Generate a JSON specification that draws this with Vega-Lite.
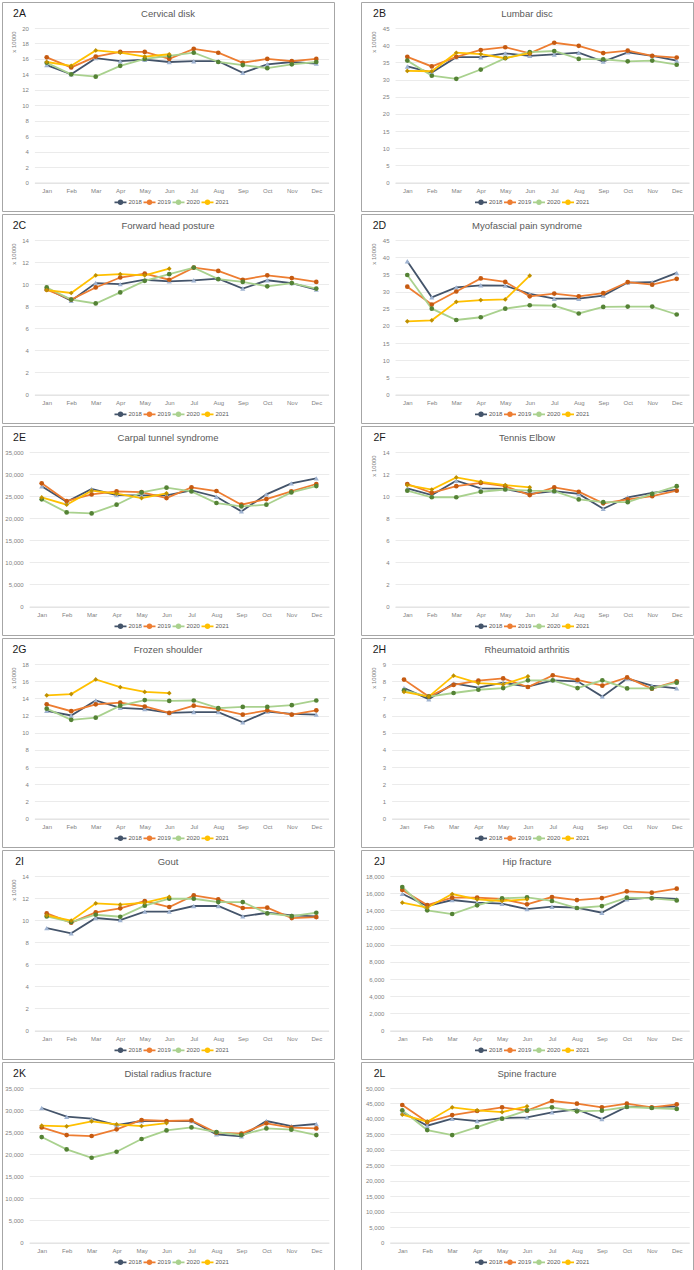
{
"$schema":"https://vega.github.io/schema/vega-lite/v6.json",
"padding":{"left":1,"top":1,"right":0,"bottom":0},
"bounds":"flush",
"columns":2,
"spacing":{"row":3,"column":27},
"resolve":{"scale":{"color":"independent"},"legend":{"color":"independent"}},
"config":{
 "font":"Liberation Sans",
 "view":{"stroke":"#a6a6a6","strokeWidth":1},
 "title":{"fontSize":9.5,"fontWeight":"normal","color":"#595959","anchor":"middle","frame":"group","offset":-16},
 "line":{"strokeWidth":1.8},
 "point":{"filled":true,"size":22,"opacity":1}
},
"concat":[
{"width":332,"height":209,"title":"Cervical disk",
 "data":{"values":[
 {"year":"2018","m":1,"v":15.2},{"year":"2018","m":2,"v":14.0},{"year":"2018","m":3,"v":16.1},{"year":"2018","m":4,"v":15.7},{"year":"2018","m":5,"v":15.9},{"year":"2018","m":6,"v":15.6},{"year":"2018","m":7,"v":15.7},{"year":"2018","m":8,"v":15.7},{"year":"2018","m":9,"v":14.2},{"year":"2018","m":10,"v":15.3},{"year":"2018","m":11,"v":15.6},{"year":"2018","m":12,"v":15.4},
 {"year":"2019","m":1,"v":16.2},{"year":"2019","m":2,"v":14.9},{"year":"2019","m":3,"v":16.3},{"year":"2019","m":4,"v":16.9},{"year":"2019","m":5,"v":16.9},{"year":"2019","m":6,"v":16.0},{"year":"2019","m":7,"v":17.3},{"year":"2019","m":8,"v":16.8},{"year":"2019","m":9,"v":15.5},{"year":"2019","m":10,"v":16.0},{"year":"2019","m":11,"v":15.7},{"year":"2019","m":12,"v":16.0},
 {"year":"2020","m":1,"v":15.5},{"year":"2020","m":2,"v":14.0},{"year":"2020","m":3,"v":13.7},{"year":"2020","m":4,"v":15.1},{"year":"2020","m":5,"v":16.0},{"year":"2020","m":6,"v":16.4},{"year":"2020","m":7,"v":16.8},{"year":"2020","m":8,"v":15.6},{"year":"2020","m":9,"v":15.2},{"year":"2020","m":10,"v":14.8},{"year":"2020","m":11,"v":15.3},{"year":"2020","m":12,"v":15.6},
 {"year":"2021","m":1,"v":15.6},{"year":"2021","m":2,"v":15.1},{"year":"2021","m":3,"v":17.1},{"year":"2021","m":4,"v":16.8},{"year":"2021","m":5,"v":16.3},{"year":"2021","m":6,"v":16.6}]},
 "encoding":{
  "x":{"field":"m","type":"quantitative","scale":{"domain":[0.5,12.5],"range":[32.45,326.55],"nice":false,"zero":false},
   "axis":{"values":[1,2,3,4,5,6,7,8,9,10,11,12],"labelExpr":"['Jan','Feb','Mar','Apr','May','Jun','Jul','Aug','Sep','Oct','Nov','Dec'][datum.value-1]","grid":false,"ticks":false,"domain":true,"domainColor":"#d9d9d9","domainWidth":0.8,"offset":-28.5,"labelPadding":4.5,"labelFontSize":6,"labelColor":"#7f7f7f","labelFlush":false,"labelOverlap":false,"title":"2A","titleX":17,"titleY":-168.8,"titleFontSize":10.5,"titleFontWeight":"normal","titleColor":"#1a1a1a","titleAlign":"center","titleBaseline":"middle","titleAngle":0}},
  "y":{"field":"v","type":"quantitative","scale":{"domain":[0,20],"range":[180.5,26],"nice":false,"zero":false},
   "axis":{"values":[0,2,4,6,8,10,12,14,16,18,20],"grid":true,"gridColor":"#e3e3e3","gridWidth":0.7,"domain":false,"ticks":false,"offset":-32.45,"labelPadding":6,"labelFontSize":6,"labelColor":"#7f7f7f","labelFlush":false,"labelOverlap":false,"title":"x 10000","titleX":-20.95,"titleY":39.5,"titleFontSize":6,"titleFontWeight":"normal","titleColor":"#7f7f7f","titleAngle":-90,"titleAlign":"center","titleBaseline":"middle"}}},
 "layer":[
  {"mark":"line","encoding":{"color":{"field":"year","type":"nominal","scale":{"domain":["2018","2019","2020","2021"],"range":["#44546a","#ed7d31","#a9d18e","#ffc000"]},
   "legend":{"orient":"none","legendX":111.5,"legendY":193,"direction":"horizontal","columns":4,"title":null,"padding":0,"symbolSize":144,"symbolStrokeWidth":1.4,"symbolType":"M-1,0H1M-0.3,0A0.3,0.3,0,1,1,0.3,0A0.3,0.3,0,1,1,-0.3,0Z","labelFontSize":6,"labelColor":"#595959","labelOffset":1,"columnPadding":-6}}}},
  {"transform":[{"filter":"datum.year=='2018'"}],"mark":{"type":"point","shape":"triangle-up","color":"#9fb3d1","size":26}},
  {"transform":[{"filter":"datum.year=='2019'"}],"mark":{"type":"point","shape":"circle","color":"#c55a11"}},
  {"transform":[{"filter":"datum.year=='2020'"}],"mark":{"type":"point","shape":"circle","color":"#548235"}},
  {"transform":[{"filter":"datum.year=='2021'"}],"mark":{"type":"point","shape":"diamond","color":"#bf9000"}}
 ]},
{"width":332,"height":209,"title":"Lumbar disc",
 "data":{"values":[
 {"year":"2018","m":1,"v":33.8},{"year":"2018","m":2,"v":32.0},{"year":"2018","m":3,"v":36.5},{"year":"2018","m":4,"v":36.5},{"year":"2018","m":5,"v":37.6},{"year":"2018","m":6,"v":36.9},{"year":"2018","m":7,"v":37.3},{"year":"2018","m":8,"v":37.8},{"year":"2018","m":9,"v":35.2},{"year":"2018","m":10,"v":37.9},{"year":"2018","m":11,"v":36.9},{"year":"2018","m":12,"v":35.5},
 {"year":"2019","m":1,"v":36.6},{"year":"2019","m":2,"v":33.8},{"year":"2019","m":3,"v":36.6},{"year":"2019","m":4,"v":38.6},{"year":"2019","m":5,"v":39.4},{"year":"2019","m":6,"v":37.6},{"year":"2019","m":7,"v":40.7},{"year":"2019","m":8,"v":39.8},{"year":"2019","m":9,"v":37.7},{"year":"2019","m":10,"v":38.4},{"year":"2019","m":11,"v":36.9},{"year":"2019","m":12,"v":36.4},
 {"year":"2020","m":1,"v":35.5},{"year":"2020","m":2,"v":31.1},{"year":"2020","m":3,"v":30.2},{"year":"2020","m":4,"v":32.9},{"year":"2020","m":5,"v":36.2},{"year":"2020","m":6,"v":38.0},{"year":"2020","m":7,"v":38.3},{"year":"2020","m":8,"v":36.0},{"year":"2020","m":9,"v":35.9},{"year":"2020","m":10,"v":35.3},{"year":"2020","m":11,"v":35.5},{"year":"2020","m":12,"v":34.3},
 {"year":"2021","m":1,"v":32.5},{"year":"2021","m":2,"v":32.4},{"year":"2021","m":3,"v":37.8},{"year":"2021","m":4,"v":37.4},{"year":"2021","m":5,"v":36.2},{"year":"2021","m":6,"v":37.7}]},
 "encoding":{
  "x":{"field":"m","type":"quantitative","scale":{"domain":[0.5,12.5],"range":[34.05,327.95],"nice":false,"zero":false},
   "axis":{"values":[1,2,3,4,5,6,7,8,9,10,11,12],"labelExpr":"['Jan','Feb','Mar','Apr','May','Jun','Jul','Aug','Sep','Oct','Nov','Dec'][datum.value-1]","grid":false,"ticks":false,"domain":true,"domainColor":"#d9d9d9","domainWidth":0.8,"offset":-28.5,"labelPadding":4.5,"labelFontSize":6,"labelColor":"#7f7f7f","labelFlush":false,"labelOverlap":false,"title":"2B","titleX":18,"titleY":-168.8,"titleFontSize":10.5,"titleFontWeight":"normal","titleColor":"#1a1a1a","titleAlign":"center","titleBaseline":"middle","titleAngle":0}},
  "y":{"field":"v","type":"quantitative","scale":{"domain":[0,45],"range":[180.5,26],"nice":false,"zero":false},
   "axis":{"values":[0,5,10,15,20,25,30,35,40,45],"grid":true,"gridColor":"#e3e3e3","gridWidth":0.7,"domain":false,"ticks":false,"offset":-34.05,"labelPadding":6,"labelFontSize":6,"labelColor":"#7f7f7f","labelFlush":false,"labelOverlap":false,"title":"x 10000","titleX":-22.05,"titleY":39.5,"titleFontSize":6,"titleFontWeight":"normal","titleColor":"#7f7f7f","titleAngle":-90,"titleAlign":"center","titleBaseline":"middle"}}},
 "layer":[
  {"mark":"line","encoding":{"color":{"field":"year","type":"nominal","scale":{"domain":["2018","2019","2020","2021"],"range":["#44546a","#ed7d31","#a9d18e","#ffc000"]},
   "legend":{"orient":"none","legendX":113,"legendY":193,"direction":"horizontal","columns":4,"title":null,"padding":0,"symbolSize":144,"symbolStrokeWidth":1.4,"symbolType":"M-1,0H1M-0.3,0A0.3,0.3,0,1,1,0.3,0A0.3,0.3,0,1,1,-0.3,0Z","labelFontSize":6,"labelColor":"#595959","labelOffset":1,"columnPadding":-6}}}},
  {"transform":[{"filter":"datum.year=='2018'"}],"mark":{"type":"point","shape":"triangle-up","color":"#9fb3d1","size":26}},
  {"transform":[{"filter":"datum.year=='2019'"}],"mark":{"type":"point","shape":"circle","color":"#c55a11"}},
  {"transform":[{"filter":"datum.year=='2020'"}],"mark":{"type":"point","shape":"circle","color":"#548235"}},
  {"transform":[{"filter":"datum.year=='2021'"}],"mark":{"type":"point","shape":"diamond","color":"#bf9000"}}
 ]},
{"width":332,"height":209,"title":"Forward head posture",
 "data":{"values":[
 {"year":"2018","m":1,"v":9.6},{"year":"2018","m":2,"v":8.5},{"year":"2018","m":3,"v":10.1},{"year":"2018","m":4,"v":10.0},{"year":"2018","m":5,"v":10.4},{"year":"2018","m":6,"v":10.25},{"year":"2018","m":7,"v":10.35},{"year":"2018","m":8,"v":10.5},{"year":"2018","m":9,"v":9.6},{"year":"2018","m":10,"v":10.35},{"year":"2018","m":11,"v":10.1},{"year":"2018","m":12,"v":9.5},
 {"year":"2019","m":1,"v":9.5},{"year":"2019","m":2,"v":8.6},{"year":"2019","m":3,"v":9.7},{"year":"2019","m":4,"v":10.6},{"year":"2019","m":5,"v":10.95},{"year":"2019","m":6,"v":10.4},{"year":"2019","m":7,"v":11.5},{"year":"2019","m":8,"v":11.2},{"year":"2019","m":9,"v":10.4},{"year":"2019","m":10,"v":10.8},{"year":"2019","m":11,"v":10.55},{"year":"2019","m":12,"v":10.2},
 {"year":"2020","m":1,"v":9.7},{"year":"2020","m":2,"v":8.6},{"year":"2020","m":3,"v":8.25},{"year":"2020","m":4,"v":9.25},{"year":"2020","m":5,"v":10.3},{"year":"2020","m":6,"v":10.9},{"year":"2020","m":7,"v":11.5},{"year":"2020","m":8,"v":10.45},{"year":"2020","m":9,"v":10.2},{"year":"2020","m":10,"v":9.8},{"year":"2020","m":11,"v":10.1},{"year":"2020","m":12,"v":9.6},
 {"year":"2021","m":1,"v":9.45},{"year":"2021","m":2,"v":9.2},{"year":"2021","m":3,"v":10.8},{"year":"2021","m":4,"v":10.9},{"year":"2021","m":5,"v":10.8},{"year":"2021","m":6,"v":11.4}]},
 "encoding":{
  "x":{"field":"m","type":"quantitative","scale":{"domain":[0.5,12.5],"range":[32.45,326.55],"nice":false,"zero":false},
   "axis":{"values":[1,2,3,4,5,6,7,8,9,10,11,12],"labelExpr":"['Jan','Feb','Mar','Apr','May','Jun','Jul','Aug','Sep','Oct','Nov','Dec'][datum.value-1]","grid":false,"ticks":false,"domain":true,"domainColor":"#d9d9d9","domainWidth":0.8,"offset":-28.5,"labelPadding":4.5,"labelFontSize":6,"labelColor":"#7f7f7f","labelFlush":false,"labelOverlap":false,"title":"2C","titleX":17,"titleY":-168.8,"titleFontSize":10.5,"titleFontWeight":"normal","titleColor":"#1a1a1a","titleAlign":"center","titleBaseline":"middle","titleAngle":0}},
  "y":{"field":"v","type":"quantitative","scale":{"domain":[0,14],"range":[180.5,26],"nice":false,"zero":false},
   "axis":{"values":[0,2,4,6,8,10,12,14],"grid":true,"gridColor":"#e3e3e3","gridWidth":0.7,"domain":false,"ticks":false,"offset":-32.45,"labelPadding":6,"labelFontSize":6,"labelColor":"#7f7f7f","labelFlush":false,"labelOverlap":false,"title":"x 10000","titleX":-20.95,"titleY":39.5,"titleFontSize":6,"titleFontWeight":"normal","titleColor":"#7f7f7f","titleAngle":-90,"titleAlign":"center","titleBaseline":"middle"}}},
 "layer":[
  {"mark":"line","encoding":{"color":{"field":"year","type":"nominal","scale":{"domain":["2018","2019","2020","2021"],"range":["#44546a","#ed7d31","#a9d18e","#ffc000"]},
   "legend":{"orient":"none","legendX":111.5,"legendY":193,"direction":"horizontal","columns":4,"title":null,"padding":0,"symbolSize":144,"symbolStrokeWidth":1.4,"symbolType":"M-1,0H1M-0.3,0A0.3,0.3,0,1,1,0.3,0A0.3,0.3,0,1,1,-0.3,0Z","labelFontSize":6,"labelColor":"#595959","labelOffset":1,"columnPadding":-6}}}},
  {"transform":[{"filter":"datum.year=='2018'"}],"mark":{"type":"point","shape":"triangle-up","color":"#9fb3d1","size":26}},
  {"transform":[{"filter":"datum.year=='2019'"}],"mark":{"type":"point","shape":"circle","color":"#c55a11"}},
  {"transform":[{"filter":"datum.year=='2020'"}],"mark":{"type":"point","shape":"circle","color":"#548235"}},
  {"transform":[{"filter":"datum.year=='2021'"}],"mark":{"type":"point","shape":"diamond","color":"#bf9000"}}
 ]},
{"width":332,"height":209,"title":"Myofascial pain syndrome",
 "data":{"values":[
 {"year":"2018","m":1,"v":38.8},{"year":"2018","m":2,"v":28.3},{"year":"2018","m":3,"v":31.2},{"year":"2018","m":4,"v":31.8},{"year":"2018","m":5,"v":31.7},{"year":"2018","m":6,"v":29.3},{"year":"2018","m":7,"v":27.9},{"year":"2018","m":8,"v":27.9},{"year":"2018","m":9,"v":28.8},{"year":"2018","m":10,"v":32.6},{"year":"2018","m":11,"v":32.7},{"year":"2018","m":12,"v":35.4},
 {"year":"2019","m":1,"v":31.4},{"year":"2019","m":2,"v":26.2},{"year":"2019","m":3,"v":30.0},{"year":"2019","m":4,"v":33.8},{"year":"2019","m":5,"v":32.8},{"year":"2019","m":6,"v":28.6},{"year":"2019","m":7,"v":29.4},{"year":"2019","m":8,"v":28.6},{"year":"2019","m":9,"v":29.5},{"year":"2019","m":10,"v":32.75},{"year":"2019","m":11,"v":32.0},{"year":"2019","m":12,"v":33.7},
 {"year":"2020","m":1,"v":34.8},{"year":"2020","m":2,"v":25.0},{"year":"2020","m":3,"v":21.7},{"year":"2020","m":4,"v":22.5},{"year":"2020","m":5,"v":25.0},{"year":"2020","m":6,"v":26.0},{"year":"2020","m":7,"v":25.9},{"year":"2020","m":8,"v":23.6},{"year":"2020","m":9,"v":25.5},{"year":"2020","m":10,"v":25.6},{"year":"2020","m":11,"v":25.6},{"year":"2020","m":12,"v":23.3},
 {"year":"2021","m":1,"v":21.3},{"year":"2021","m":2,"v":21.6},{"year":"2021","m":3,"v":27.0},{"year":"2021","m":4,"v":27.5},{"year":"2021","m":5,"v":27.7},{"year":"2021","m":6,"v":34.6}]},
 "encoding":{
  "x":{"field":"m","type":"quantitative","scale":{"domain":[0.5,12.5],"range":[34.05,327.95],"nice":false,"zero":false},
   "axis":{"values":[1,2,3,4,5,6,7,8,9,10,11,12],"labelExpr":"['Jan','Feb','Mar','Apr','May','Jun','Jul','Aug','Sep','Oct','Nov','Dec'][datum.value-1]","grid":false,"ticks":false,"domain":true,"domainColor":"#d9d9d9","domainWidth":0.8,"offset":-28.5,"labelPadding":4.5,"labelFontSize":6,"labelColor":"#7f7f7f","labelFlush":false,"labelOverlap":false,"title":"2D","titleX":18,"titleY":-168.8,"titleFontSize":10.5,"titleFontWeight":"normal","titleColor":"#1a1a1a","titleAlign":"center","titleBaseline":"middle","titleAngle":0}},
  "y":{"field":"v","type":"quantitative","scale":{"domain":[0,45],"range":[180.5,26],"nice":false,"zero":false},
   "axis":{"values":[0,5,10,15,20,25,30,35,40,45],"grid":true,"gridColor":"#e3e3e3","gridWidth":0.7,"domain":false,"ticks":false,"offset":-34.05,"labelPadding":6,"labelFontSize":6,"labelColor":"#7f7f7f","labelFlush":false,"labelOverlap":false,"title":"x 10000","titleX":-22.05,"titleY":39.5,"titleFontSize":6,"titleFontWeight":"normal","titleColor":"#7f7f7f","titleAngle":-90,"titleAlign":"center","titleBaseline":"middle"}}},
 "layer":[
  {"mark":"line","encoding":{"color":{"field":"year","type":"nominal","scale":{"domain":["2018","2019","2020","2021"],"range":["#44546a","#ed7d31","#a9d18e","#ffc000"]},
   "legend":{"orient":"none","legendX":113,"legendY":193,"direction":"horizontal","columns":4,"title":null,"padding":0,"symbolSize":144,"symbolStrokeWidth":1.4,"symbolType":"M-1,0H1M-0.3,0A0.3,0.3,0,1,1,0.3,0A0.3,0.3,0,1,1,-0.3,0Z","labelFontSize":6,"labelColor":"#595959","labelOffset":1,"columnPadding":-6}}}},
  {"transform":[{"filter":"datum.year=='2018'"}],"mark":{"type":"point","shape":"triangle-up","color":"#9fb3d1","size":26}},
  {"transform":[{"filter":"datum.year=='2019'"}],"mark":{"type":"point","shape":"circle","color":"#c55a11"}},
  {"transform":[{"filter":"datum.year=='2020'"}],"mark":{"type":"point","shape":"circle","color":"#548235"}},
  {"transform":[{"filter":"datum.year=='2021'"}],"mark":{"type":"point","shape":"diamond","color":"#bf9000"}}
 ]},
{"width":332,"height":209,"title":"Carpal tunnel syndrome",
 "data":{"values":[
 {"year":"2018","m":1,"v":27220},{"year":"2018","m":2,"v":23740},{"year":"2018","m":3,"v":26610},{"year":"2018","m":4,"v":25250},{"year":"2018","m":5,"v":25170},{"year":"2018","m":6,"v":25170},{"year":"2018","m":7,"v":26310},{"year":"2018","m":8,"v":24870},{"year":"2018","m":9,"v":21550},{"year":"2018","m":10,"v":25400},{"year":"2018","m":11,"v":27900},{"year":"2018","m":12,"v":29030},
 {"year":"2019","m":1,"v":27900},{"year":"2019","m":2,"v":23890},{"year":"2019","m":3,"v":25400},{"year":"2019","m":4,"v":26080},{"year":"2019","m":5,"v":25930},{"year":"2019","m":6,"v":24570},{"year":"2019","m":7,"v":26990},{"year":"2019","m":8,"v":26160},{"year":"2019","m":9,"v":23060},{"year":"2019","m":10,"v":24340},{"year":"2019","m":11,"v":26080},{"year":"2019","m":12,"v":27750},
 {"year":"2020","m":1,"v":24270},{"year":"2020","m":2,"v":21320},{"year":"2020","m":3,"v":21090},{"year":"2020","m":4,"v":23060},{"year":"2020","m":5,"v":25850},{"year":"2020","m":6,"v":26910},{"year":"2020","m":7,"v":26080},{"year":"2020","m":8,"v":23440},{"year":"2020","m":9,"v":22680},{"year":"2020","m":10,"v":23060},{"year":"2020","m":11,"v":25850},{"year":"2020","m":12,"v":27290},
 {"year":"2021","m":1,"v":24720},{"year":"2021","m":2,"v":23060},{"year":"2021","m":3,"v":26230},{"year":"2021","m":4,"v":25550},{"year":"2021","m":5,"v":24570},{"year":"2021","m":6,"v":25630}]},
 "encoding":{
  "x":{"field":"m","type":"quantitative","scale":{"domain":[0.5,12.5],"range":[27.2,326.8],"nice":false,"zero":false},
   "axis":{"values":[1,2,3,4,5,6,7,8,9,10,11,12],"labelExpr":"['Jan','Feb','Mar','Apr','May','Jun','Jul','Aug','Sep','Oct','Nov','Dec'][datum.value-1]","grid":false,"ticks":false,"domain":true,"domainColor":"#d9d9d9","domainWidth":0.8,"offset":-28.5,"labelPadding":4.5,"labelFontSize":6,"labelColor":"#7f7f7f","labelFlush":false,"labelOverlap":false,"title":"2E","titleX":17,"titleY":-168.8,"titleFontSize":10.5,"titleFontWeight":"normal","titleColor":"#1a1a1a","titleAlign":"center","titleBaseline":"middle","titleAngle":0}},
  "y":{"field":"v","type":"quantitative","scale":{"domain":[0,35000],"range":[180.5,26],"nice":false,"zero":false},
   "axis":{"values":[0,5000,10000,15000,20000,25000,30000,35000],"format":",d","grid":true,"gridColor":"#e3e3e3","gridWidth":0.7,"domain":false,"ticks":false,"offset":-27.2,"labelPadding":6,"labelFontSize":6,"labelColor":"#7f7f7f","labelFlush":false,"labelOverlap":false,"title":null}}},
 "layer":[
  {"mark":"line","encoding":{"color":{"field":"year","type":"nominal","scale":{"domain":["2018","2019","2020","2021"],"range":["#44546a","#ed7d31","#a9d18e","#ffc000"]},
   "legend":{"orient":"none","legendX":111.5,"legendY":193,"direction":"horizontal","columns":4,"title":null,"padding":0,"symbolSize":144,"symbolStrokeWidth":1.4,"symbolType":"M-1,0H1M-0.3,0A0.3,0.3,0,1,1,0.3,0A0.3,0.3,0,1,1,-0.3,0Z","labelFontSize":6,"labelColor":"#595959","labelOffset":1,"columnPadding":-6}}}},
  {"transform":[{"filter":"datum.year=='2018'"}],"mark":{"type":"point","shape":"triangle-up","color":"#9fb3d1","size":26}},
  {"transform":[{"filter":"datum.year=='2019'"}],"mark":{"type":"point","shape":"circle","color":"#c55a11"}},
  {"transform":[{"filter":"datum.year=='2020'"}],"mark":{"type":"point","shape":"circle","color":"#548235"}},
  {"transform":[{"filter":"datum.year=='2021'"}],"mark":{"type":"point","shape":"diamond","color":"#bf9000"}}
 ]},
{"width":332,"height":209,"title":"Tennis Elbow",
 "data":{"values":[
 {"year":"2018","m":1,"v":10.7},{"year":"2018","m":2,"v":10.1},{"year":"2018","m":3,"v":11.4},{"year":"2018","m":4,"v":10.7},{"year":"2018","m":5,"v":10.65},{"year":"2018","m":6,"v":10.2},{"year":"2018","m":7,"v":10.45},{"year":"2018","m":8,"v":10.2},{"year":"2018","m":9,"v":8.85},{"year":"2018","m":10,"v":9.9},{"year":"2018","m":11,"v":10.3},{"year":"2018","m":12,"v":10.6},
 {"year":"2019","m":1,"v":11.1},{"year":"2019","m":2,"v":10.3},{"year":"2019","m":3,"v":10.9},{"year":"2019","m":4,"v":11.2},{"year":"2019","m":5,"v":10.9},{"year":"2019","m":6,"v":10.1},{"year":"2019","m":7,"v":10.8},{"year":"2019","m":8,"v":10.4},{"year":"2019","m":9,"v":9.35},{"year":"2019","m":10,"v":9.7},{"year":"2019","m":11,"v":10.0},{"year":"2019","m":12,"v":10.5},
 {"year":"2020","m":1,"v":10.5},{"year":"2020","m":2,"v":9.9},{"year":"2020","m":3,"v":9.9},{"year":"2020","m":4,"v":10.4},{"year":"2020","m":5,"v":10.6},{"year":"2020","m":6,"v":10.5},{"year":"2020","m":7,"v":10.45},{"year":"2020","m":8,"v":9.7},{"year":"2020","m":9,"v":9.45},{"year":"2020","m":10,"v":9.45},{"year":"2020","m":11,"v":10.2},{"year":"2020","m":12,"v":10.9},
 {"year":"2021","m":1,"v":11.0},{"year":"2021","m":2,"v":10.6},{"year":"2021","m":3,"v":11.7},{"year":"2021","m":4,"v":11.3},{"year":"2021","m":5,"v":11.0},{"year":"2021","m":6,"v":10.8}]},
 "encoding":{
  "x":{"field":"m","type":"quantitative","scale":{"domain":[0.5,12.5],"range":[34.05,327.95],"nice":false,"zero":false},
   "axis":{"values":[1,2,3,4,5,6,7,8,9,10,11,12],"labelExpr":"['Jan','Feb','Mar','Apr','May','Jun','Jul','Aug','Sep','Oct','Nov','Dec'][datum.value-1]","grid":false,"ticks":false,"domain":true,"domainColor":"#d9d9d9","domainWidth":0.8,"offset":-28.5,"labelPadding":4.5,"labelFontSize":6,"labelColor":"#7f7f7f","labelFlush":false,"labelOverlap":false,"title":"2F","titleX":18,"titleY":-168.8,"titleFontSize":10.5,"titleFontWeight":"normal","titleColor":"#1a1a1a","titleAlign":"center","titleBaseline":"middle","titleAngle":0}},
  "y":{"field":"v","type":"quantitative","scale":{"domain":[0,14],"range":[180.5,26],"nice":false,"zero":false},
   "axis":{"values":[0,2,4,6,8,10,12,14],"grid":true,"gridColor":"#e3e3e3","gridWidth":0.7,"domain":false,"ticks":false,"offset":-34.05,"labelPadding":6,"labelFontSize":6,"labelColor":"#7f7f7f","labelFlush":false,"labelOverlap":false,"title":"x 10000","titleX":-22.05,"titleY":39.5,"titleFontSize":6,"titleFontWeight":"normal","titleColor":"#7f7f7f","titleAngle":-90,"titleAlign":"center","titleBaseline":"middle"}}},
 "layer":[
  {"mark":"line","encoding":{"color":{"field":"year","type":"nominal","scale":{"domain":["2018","2019","2020","2021"],"range":["#44546a","#ed7d31","#a9d18e","#ffc000"]},
   "legend":{"orient":"none","legendX":113,"legendY":193,"direction":"horizontal","columns":4,"title":null,"padding":0,"symbolSize":144,"symbolStrokeWidth":1.4,"symbolType":"M-1,0H1M-0.3,0A0.3,0.3,0,1,1,0.3,0A0.3,0.3,0,1,1,-0.3,0Z","labelFontSize":6,"labelColor":"#595959","labelOffset":1,"columnPadding":-6}}}},
  {"transform":[{"filter":"datum.year=='2018'"}],"mark":{"type":"point","shape":"triangle-up","color":"#9fb3d1","size":26}},
  {"transform":[{"filter":"datum.year=='2019'"}],"mark":{"type":"point","shape":"circle","color":"#c55a11"}},
  {"transform":[{"filter":"datum.year=='2020'"}],"mark":{"type":"point","shape":"circle","color":"#548235"}},
  {"transform":[{"filter":"datum.year=='2021'"}],"mark":{"type":"point","shape":"diamond","color":"#bf9000"}}
 ]},
{"width":332,"height":209,"title":"Frozen shoulder",
 "data":{"values":[
 {"year":"2018","m":1,"v":12.55},{"year":"2018","m":2,"v":12.0},{"year":"2018","m":3,"v":13.75},{"year":"2018","m":4,"v":12.9},{"year":"2018","m":5,"v":12.75},{"year":"2018","m":6,"v":12.3},{"year":"2018","m":7,"v":12.4},{"year":"2018","m":8,"v":12.4},{"year":"2018","m":9,"v":11.2},{"year":"2018","m":10,"v":12.45},{"year":"2018","m":11,"v":12.2},{"year":"2018","m":12,"v":12.1},
 {"year":"2019","m":1,"v":13.3},{"year":"2019","m":2,"v":12.5},{"year":"2019","m":3,"v":13.3},{"year":"2019","m":4,"v":13.5},{"year":"2019","m":5,"v":13.05},{"year":"2019","m":6,"v":12.3},{"year":"2019","m":7,"v":13.15},{"year":"2019","m":8,"v":12.75},{"year":"2019","m":9,"v":12.1},{"year":"2019","m":10,"v":12.6},{"year":"2019","m":11,"v":12.1},{"year":"2019","m":12,"v":12.6},
 {"year":"2020","m":1,"v":12.8},{"year":"2020","m":2,"v":11.5},{"year":"2020","m":3,"v":11.75},{"year":"2020","m":4,"v":13.15},{"year":"2020","m":5,"v":13.8},{"year":"2020","m":6,"v":13.7},{"year":"2020","m":7,"v":13.75},{"year":"2020","m":8,"v":12.85},{"year":"2020","m":9,"v":13.0},{"year":"2020","m":10,"v":13.0},{"year":"2020","m":11,"v":13.2},{"year":"2020","m":12,"v":13.75},
 {"year":"2021","m":1,"v":14.35},{"year":"2021","m":2,"v":14.5},{"year":"2021","m":3,"v":16.2},{"year":"2021","m":4,"v":15.3},{"year":"2021","m":5,"v":14.75},{"year":"2021","m":6,"v":14.6}]},
 "encoding":{
  "x":{"field":"m","type":"quantitative","scale":{"domain":[0.5,12.5],"range":[32.45,326.55],"nice":false,"zero":false},
   "axis":{"values":[1,2,3,4,5,6,7,8,9,10,11,12],"labelExpr":"['Jan','Feb','Mar','Apr','May','Jun','Jul','Aug','Sep','Oct','Nov','Dec'][datum.value-1]","grid":false,"ticks":false,"domain":true,"domainColor":"#d9d9d9","domainWidth":0.8,"offset":-28.5,"labelPadding":4.5,"labelFontSize":6,"labelColor":"#7f7f7f","labelFlush":false,"labelOverlap":false,"title":"2G","titleX":17,"titleY":-168.8,"titleFontSize":10.5,"titleFontWeight":"normal","titleColor":"#1a1a1a","titleAlign":"center","titleBaseline":"middle","titleAngle":0}},
  "y":{"field":"v","type":"quantitative","scale":{"domain":[0,18],"range":[180.5,26],"nice":false,"zero":false},
   "axis":{"values":[0,2,4,6,8,10,12,14,16,18],"grid":true,"gridColor":"#e3e3e3","gridWidth":0.7,"domain":false,"ticks":false,"offset":-32.45,"labelPadding":6,"labelFontSize":6,"labelColor":"#7f7f7f","labelFlush":false,"labelOverlap":false,"title":"x 10000","titleX":-20.95,"titleY":39.5,"titleFontSize":6,"titleFontWeight":"normal","titleColor":"#7f7f7f","titleAngle":-90,"titleAlign":"center","titleBaseline":"middle"}}},
 "layer":[
  {"mark":"line","encoding":{"color":{"field":"year","type":"nominal","scale":{"domain":["2018","2019","2020","2021"],"range":["#44546a","#ed7d31","#a9d18e","#ffc000"]},
   "legend":{"orient":"none","legendX":111.5,"legendY":193,"direction":"horizontal","columns":4,"title":null,"padding":0,"symbolSize":144,"symbolStrokeWidth":1.4,"symbolType":"M-1,0H1M-0.3,0A0.3,0.3,0,1,1,0.3,0A0.3,0.3,0,1,1,-0.3,0Z","labelFontSize":6,"labelColor":"#595959","labelOffset":1,"columnPadding":-6}}}},
  {"transform":[{"filter":"datum.year=='2018'"}],"mark":{"type":"point","shape":"triangle-up","color":"#9fb3d1","size":26}},
  {"transform":[{"filter":"datum.year=='2019'"}],"mark":{"type":"point","shape":"circle","color":"#c55a11"}},
  {"transform":[{"filter":"datum.year=='2020'"}],"mark":{"type":"point","shape":"circle","color":"#548235"}},
  {"transform":[{"filter":"datum.year=='2021'"}],"mark":{"type":"point","shape":"diamond","color":"#bf9000"}}
 ]},
{"width":332,"height":209,"title":"Rheumatoid arthritis",
 "data":{"values":[
 {"year":"2018","m":1,"v":7.6},{"year":"2018","m":2,"v":6.95},{"year":"2018","m":3,"v":7.87},{"year":"2018","m":4,"v":7.62},{"year":"2018","m":5,"v":7.91},{"year":"2018","m":6,"v":7.68},{"year":"2018","m":7,"v":8.05},{"year":"2018","m":8,"v":7.99},{"year":"2018","m":9,"v":7.1},{"year":"2018","m":10,"v":8.15},{"year":"2018","m":11,"v":7.74},{"year":"2018","m":12,"v":7.58},
 {"year":"2019","m":1,"v":8.09},{"year":"2019","m":2,"v":7.1},{"year":"2019","m":3,"v":7.78},{"year":"2019","m":4,"v":8.03},{"year":"2019","m":5,"v":8.16},{"year":"2019","m":6,"v":7.66},{"year":"2019","m":7,"v":8.34},{"year":"2019","m":8,"v":8.07},{"year":"2019","m":9,"v":7.74},{"year":"2019","m":10,"v":8.22},{"year":"2019","m":11,"v":7.56},{"year":"2019","m":12,"v":7.99},
 {"year":"2020","m":1,"v":7.46},{"year":"2020","m":2,"v":7.1},{"year":"2020","m":3,"v":7.31},{"year":"2020","m":4,"v":7.5},{"year":"2020","m":5,"v":7.6},{"year":"2020","m":6,"v":8.05},{"year":"2020","m":7,"v":8.05},{"year":"2020","m":8,"v":7.6},{"year":"2020","m":9,"v":8.05},{"year":"2020","m":10,"v":7.58},{"year":"2020","m":11,"v":7.58},{"year":"2020","m":12,"v":7.91},
 {"year":"2021","m":1,"v":7.37},{"year":"2021","m":2,"v":7.1},{"year":"2021","m":3,"v":8.32},{"year":"2021","m":4,"v":7.89},{"year":"2021","m":5,"v":7.81},{"year":"2021","m":6,"v":8.28}]},
 "encoding":{
  "x":{"field":"m","type":"quantitative","scale":{"domain":[0.5,12.5],"range":[30.6,328.1],"nice":false,"zero":false},
   "axis":{"values":[1,2,3,4,5,6,7,8,9,10,11,12],"labelExpr":"['Jan','Feb','Mar','Apr','May','Jun','Jul','Aug','Sep','Oct','Nov','Dec'][datum.value-1]","grid":false,"ticks":false,"domain":true,"domainColor":"#d9d9d9","domainWidth":0.8,"offset":-28.5,"labelPadding":4.5,"labelFontSize":6,"labelColor":"#7f7f7f","labelFlush":false,"labelOverlap":false,"title":"2H","titleX":18,"titleY":-168.8,"titleFontSize":10.5,"titleFontWeight":"normal","titleColor":"#1a1a1a","titleAlign":"center","titleBaseline":"middle","titleAngle":0}},
  "y":{"field":"v","type":"quantitative","scale":{"domain":[0,9],"range":[180.5,26],"nice":false,"zero":false},
   "axis":{"values":[0,1,2,3,4,5,6,7,8,9],"grid":true,"gridColor":"#e3e3e3","gridWidth":0.7,"domain":false,"ticks":false,"offset":-30.6,"labelPadding":6,"labelFontSize":6,"labelColor":"#7f7f7f","labelFlush":false,"labelOverlap":false,"title":"x 10000","titleX":-18.6,"titleY":39.5,"titleFontSize":6,"titleFontWeight":"normal","titleColor":"#7f7f7f","titleAngle":-90,"titleAlign":"center","titleBaseline":"middle"}}},
 "layer":[
  {"mark":"line","encoding":{"color":{"field":"year","type":"nominal","scale":{"domain":["2018","2019","2020","2021"],"range":["#44546a","#ed7d31","#a9d18e","#ffc000"]},
   "legend":{"orient":"none","legendX":113,"legendY":193,"direction":"horizontal","columns":4,"title":null,"padding":0,"symbolSize":144,"symbolStrokeWidth":1.4,"symbolType":"M-1,0H1M-0.3,0A0.3,0.3,0,1,1,0.3,0A0.3,0.3,0,1,1,-0.3,0Z","labelFontSize":6,"labelColor":"#595959","labelOffset":1,"columnPadding":-6}}}},
  {"transform":[{"filter":"datum.year=='2018'"}],"mark":{"type":"point","shape":"triangle-up","color":"#9fb3d1","size":26}},
  {"transform":[{"filter":"datum.year=='2019'"}],"mark":{"type":"point","shape":"circle","color":"#c55a11"}},
  {"transform":[{"filter":"datum.year=='2020'"}],"mark":{"type":"point","shape":"circle","color":"#548235"}},
  {"transform":[{"filter":"datum.year=='2021'"}],"mark":{"type":"point","shape":"diamond","color":"#bf9000"}}
 ]},
{"width":332,"height":209,"title":"Gout",
 "data":{"values":[
 {"year":"2018","m":1,"v":9.28},{"year":"2018","m":2,"v":8.8},{"year":"2018","m":3,"v":10.19},{"year":"2018","m":4,"v":10.01},{"year":"2018","m":5,"v":10.77},{"year":"2018","m":6,"v":10.77},{"year":"2018","m":7,"v":11.28},{"year":"2018","m":8,"v":11.28},{"year":"2018","m":9,"v":10.34},{"year":"2018","m":10,"v":10.67},{"year":"2018","m":11,"v":10.43},{"year":"2018","m":12,"v":10.34},
 {"year":"2019","m":1,"v":10.61},{"year":"2019","m":2,"v":9.77},{"year":"2019","m":3,"v":10.7},{"year":"2019","m":4,"v":11.07},{"year":"2019","m":5,"v":11.73},{"year":"2019","m":6,"v":11.19},{"year":"2019","m":7,"v":12.25},{"year":"2019","m":8,"v":11.88},{"year":"2019","m":9,"v":11.1},{"year":"2019","m":10,"v":11.13},{"year":"2019","m":11,"v":10.19},{"year":"2019","m":12,"v":10.28},
 {"year":"2020","m":1,"v":10.34},{"year":"2020","m":2,"v":9.83},{"year":"2020","m":3,"v":10.49},{"year":"2020","m":4,"v":10.31},{"year":"2020","m":5,"v":11.31},{"year":"2020","m":6,"v":11.94},{"year":"2020","m":7,"v":11.94},{"year":"2020","m":8,"v":11.64},{"year":"2020","m":9,"v":11.64},{"year":"2020","m":10,"v":10.61},{"year":"2020","m":11,"v":10.37},{"year":"2020","m":12,"v":10.67},
 {"year":"2021","m":1,"v":10.43},{"year":"2021","m":2,"v":9.95},{"year":"2021","m":3,"v":11.52},{"year":"2021","m":4,"v":11.4},{"year":"2021","m":5,"v":11.58},{"year":"2021","m":6,"v":12.1}]},
 "encoding":{
  "x":{"field":"m","type":"quantitative","scale":{"domain":[0.5,12.5],"range":[32.45,326.55],"nice":false,"zero":false},
   "axis":{"values":[1,2,3,4,5,6,7,8,9,10,11,12],"labelExpr":"['Jan','Feb','Mar','Apr','May','Jun','Jul','Aug','Sep','Oct','Nov','Dec'][datum.value-1]","grid":false,"ticks":false,"domain":true,"domainColor":"#d9d9d9","domainWidth":0.8,"offset":-28.5,"labelPadding":4.5,"labelFontSize":6,"labelColor":"#7f7f7f","labelFlush":false,"labelOverlap":false,"title":"2I","titleX":17,"titleY":-168.8,"titleFontSize":10.5,"titleFontWeight":"normal","titleColor":"#1a1a1a","titleAlign":"center","titleBaseline":"middle","titleAngle":0}},
  "y":{"field":"v","type":"quantitative","scale":{"domain":[0,14],"range":[180.5,26],"nice":false,"zero":false},
   "axis":{"values":[0,2,4,6,8,10,12,14],"grid":true,"gridColor":"#e3e3e3","gridWidth":0.7,"domain":false,"ticks":false,"offset":-32.45,"labelPadding":6,"labelFontSize":6,"labelColor":"#7f7f7f","labelFlush":false,"labelOverlap":false,"title":"x 10000","titleX":-20.95,"titleY":39.5,"titleFontSize":6,"titleFontWeight":"normal","titleColor":"#7f7f7f","titleAngle":-90,"titleAlign":"center","titleBaseline":"middle"}}},
 "layer":[
  {"mark":"line","encoding":{"color":{"field":"year","type":"nominal","scale":{"domain":["2018","2019","2020","2021"],"range":["#44546a","#ed7d31","#a9d18e","#ffc000"]},
   "legend":{"orient":"none","legendX":111.5,"legendY":193,"direction":"horizontal","columns":4,"title":null,"padding":0,"symbolSize":144,"symbolStrokeWidth":1.4,"symbolType":"M-1,0H1M-0.3,0A0.3,0.3,0,1,1,0.3,0A0.3,0.3,0,1,1,-0.3,0Z","labelFontSize":6,"labelColor":"#595959","labelOffset":1,"columnPadding":-6}}}},
  {"transform":[{"filter":"datum.year=='2018'"}],"mark":{"type":"point","shape":"triangle-up","color":"#9fb3d1","size":26}},
  {"transform":[{"filter":"datum.year=='2019'"}],"mark":{"type":"point","shape":"circle","color":"#c55a11"}},
  {"transform":[{"filter":"datum.year=='2020'"}],"mark":{"type":"point","shape":"circle","color":"#548235"}},
  {"transform":[{"filter":"datum.year=='2021'"}],"mark":{"type":"point","shape":"diamond","color":"#bf9000"}}
 ]},
{"width":332,"height":209,"title":"Hip fracture",
 "data":{"values":[
 {"year":"2018","m":1,"v":15940},{"year":"2018","m":2,"v":14500},{"year":"2018","m":3,"v":15200},{"year":"2018","m":4,"v":14890},{"year":"2018","m":5,"v":14770},{"year":"2018","m":6,"v":14150},{"year":"2018","m":7,"v":14420},{"year":"2018","m":8,"v":14310},{"year":"2018","m":9,"v":13720},{"year":"2018","m":10,"v":15280},{"year":"2018","m":11,"v":15470},{"year":"2018","m":12,"v":15320},
 {"year":"2019","m":1,"v":16370},{"year":"2019","m":2,"v":14620},{"year":"2019","m":3,"v":15470},{"year":"2019","m":4,"v":15470},{"year":"2019","m":5,"v":15320},{"year":"2019","m":6,"v":14700},{"year":"2019","m":7,"v":15550},{"year":"2019","m":8,"v":15200},{"year":"2019","m":9,"v":15430},{"year":"2019","m":10,"v":16210},{"year":"2019","m":11,"v":16060},{"year":"2019","m":12,"v":16520},
 {"year":"2020","m":1,"v":16720},{"year":"2020","m":2,"v":14000},{"year":"2020","m":3,"v":13570},{"year":"2020","m":4,"v":14580},{"year":"2020","m":5,"v":15400},{"year":"2020","m":6,"v":15510},{"year":"2020","m":7,"v":15090},{"year":"2020","m":8,"v":14270},{"year":"2020","m":9,"v":14500},{"year":"2020","m":10,"v":15470},{"year":"2020","m":11,"v":15400},{"year":"2020","m":12,"v":15160},
 {"year":"2021","m":1,"v":14890},{"year":"2021","m":2,"v":14310},{"year":"2021","m":3,"v":15900},{"year":"2021","m":4,"v":15280},{"year":"2021","m":5,"v":15090},{"year":"2021","m":6,"v":15280}]},
 "encoding":{
  "x":{"field":"m","type":"quantitative","scale":{"domain":[0.5,12.5],"range":[28.8,328.2],"nice":false,"zero":false},
   "axis":{"values":[1,2,3,4,5,6,7,8,9,10,11,12],"labelExpr":"['Jan','Feb','Mar','Apr','May','Jun','Jul','Aug','Sep','Oct','Nov','Dec'][datum.value-1]","grid":false,"ticks":false,"domain":true,"domainColor":"#d9d9d9","domainWidth":0.8,"offset":-28.5,"labelPadding":4.5,"labelFontSize":6,"labelColor":"#7f7f7f","labelFlush":false,"labelOverlap":false,"title":"2J","titleX":18,"titleY":-168.8,"titleFontSize":10.5,"titleFontWeight":"normal","titleColor":"#1a1a1a","titleAlign":"center","titleBaseline":"middle","titleAngle":0}},
  "y":{"field":"v","type":"quantitative","scale":{"domain":[0,18000],"range":[180.5,26],"nice":false,"zero":false},
   "axis":{"values":[0,2000,4000,6000,8000,10000,12000,14000,16000,18000],"format":",d","grid":true,"gridColor":"#e3e3e3","gridWidth":0.7,"domain":false,"ticks":false,"offset":-28.8,"labelPadding":6,"labelFontSize":6,"labelColor":"#7f7f7f","labelFlush":false,"labelOverlap":false,"title":null}}},
 "layer":[
  {"mark":"line","encoding":{"color":{"field":"year","type":"nominal","scale":{"domain":["2018","2019","2020","2021"],"range":["#44546a","#ed7d31","#a9d18e","#ffc000"]},
   "legend":{"orient":"none","legendX":113,"legendY":193,"direction":"horizontal","columns":4,"title":null,"padding":0,"symbolSize":144,"symbolStrokeWidth":1.4,"symbolType":"M-1,0H1M-0.3,0A0.3,0.3,0,1,1,0.3,0A0.3,0.3,0,1,1,-0.3,0Z","labelFontSize":6,"labelColor":"#595959","labelOffset":1,"columnPadding":-6}}}},
  {"transform":[{"filter":"datum.year=='2018'"}],"mark":{"type":"point","shape":"triangle-up","color":"#9fb3d1","size":26}},
  {"transform":[{"filter":"datum.year=='2019'"}],"mark":{"type":"point","shape":"circle","color":"#c55a11"}},
  {"transform":[{"filter":"datum.year=='2020'"}],"mark":{"type":"point","shape":"circle","color":"#548235"}},
  {"transform":[{"filter":"datum.year=='2021'"}],"mark":{"type":"point","shape":"diamond","color":"#bf9000"}}
 ]},
{"width":332,"height":209,"title":"Distal radius fracture",
 "data":{"values":[
 {"year":"2018","m":1,"v":30470},{"year":"2018","m":2,"v":28500},{"year":"2018","m":3,"v":28050},{"year":"2018","m":4,"v":26610},{"year":"2018","m":5,"v":27520},{"year":"2018","m":6,"v":27520},{"year":"2018","m":7,"v":27520},{"year":"2018","m":8,"v":24490},{"year":"2018","m":9,"v":24040},{"year":"2018","m":10,"v":27520},{"year":"2018","m":11,"v":26380},{"year":"2018","m":12,"v":26840},
 {"year":"2019","m":1,"v":26080},{"year":"2019","m":2,"v":24340},{"year":"2019","m":3,"v":24120},{"year":"2019","m":4,"v":25630},{"year":"2019","m":5,"v":27750},{"year":"2019","m":6,"v":27520},{"year":"2019","m":7,"v":27670},{"year":"2019","m":8,"v":24870},{"year":"2019","m":9,"v":24650},{"year":"2019","m":10,"v":26990},{"year":"2019","m":11,"v":26010},{"year":"2019","m":12,"v":25850},
 {"year":"2020","m":1,"v":23890},{"year":"2020","m":2,"v":21090},{"year":"2020","m":3,"v":19200},{"year":"2020","m":4,"v":20560},{"year":"2020","m":5,"v":23440},{"year":"2020","m":6,"v":25400},{"year":"2020","m":7,"v":26080},{"year":"2020","m":8,"v":25020},{"year":"2020","m":9,"v":24340},{"year":"2020","m":10,"v":25850},{"year":"2020","m":11,"v":25550},{"year":"2020","m":12,"v":24340},
 {"year":"2021","m":1,"v":26460},{"year":"2021","m":2,"v":26310},{"year":"2021","m":3,"v":27440},{"year":"2021","m":4,"v":26760},{"year":"2021","m":5,"v":26380},{"year":"2021","m":6,"v":27060}]},
 "encoding":{
  "x":{"field":"m","type":"quantitative","scale":{"domain":[0.5,12.5],"range":[27.2,326.8],"nice":false,"zero":false},
   "axis":{"values":[1,2,3,4,5,6,7,8,9,10,11,12],"labelExpr":"['Jan','Feb','Mar','Apr','May','Jun','Jul','Aug','Sep','Oct','Nov','Dec'][datum.value-1]","grid":false,"ticks":false,"domain":true,"domainColor":"#d9d9d9","domainWidth":0.8,"offset":-28.5,"labelPadding":4.5,"labelFontSize":6,"labelColor":"#7f7f7f","labelFlush":false,"labelOverlap":false,"title":"2K","titleX":17,"titleY":-168.8,"titleFontSize":10.5,"titleFontWeight":"normal","titleColor":"#1a1a1a","titleAlign":"center","titleBaseline":"middle","titleAngle":0}},
  "y":{"field":"v","type":"quantitative","scale":{"domain":[0,35000],"range":[180.5,26],"nice":false,"zero":false},
   "axis":{"values":[0,5000,10000,15000,20000,25000,30000,35000],"format":",d","grid":true,"gridColor":"#e3e3e3","gridWidth":0.7,"domain":false,"ticks":false,"offset":-27.2,"labelPadding":6,"labelFontSize":6,"labelColor":"#7f7f7f","labelFlush":false,"labelOverlap":false,"title":null}}},
 "layer":[
  {"mark":"line","encoding":{"color":{"field":"year","type":"nominal","scale":{"domain":["2018","2019","2020","2021"],"range":["#44546a","#ed7d31","#a9d18e","#ffc000"]},
   "legend":{"orient":"none","legendX":111.5,"legendY":193,"direction":"horizontal","columns":4,"title":null,"padding":0,"symbolSize":144,"symbolStrokeWidth":1.4,"symbolType":"M-1,0H1M-0.3,0A0.3,0.3,0,1,1,0.3,0A0.3,0.3,0,1,1,-0.3,0Z","labelFontSize":6,"labelColor":"#595959","labelOffset":1,"columnPadding":-6}}}},
  {"transform":[{"filter":"datum.year=='2018'"}],"mark":{"type":"point","shape":"triangle-up","color":"#9fb3d1","size":26}},
  {"transform":[{"filter":"datum.year=='2019'"}],"mark":{"type":"point","shape":"circle","color":"#c55a11"}},
  {"transform":[{"filter":"datum.year=='2020'"}],"mark":{"type":"point","shape":"circle","color":"#548235"}},
  {"transform":[{"filter":"datum.year=='2021'"}],"mark":{"type":"point","shape":"diamond","color":"#bf9000"}}
 ]},
{"width":332,"height":209,"title":"Spine fracture",
 "data":{"values":[
 {"year":"2018","m":1,"v":42220},{"year":"2018","m":2,"v":37800},{"year":"2018","m":3,"v":40060},{"year":"2018","m":4,"v":39310},{"year":"2018","m":5,"v":40280},{"year":"2018","m":6,"v":40500},{"year":"2018","m":7,"v":42120},{"year":"2018","m":8,"v":43090},{"year":"2018","m":9,"v":39960},{"year":"2018","m":10,"v":43950},{"year":"2018","m":11,"v":43740},{"year":"2018","m":12,"v":44060},
 {"year":"2019","m":1,"v":44490},{"year":"2019","m":2,"v":38980},{"year":"2019","m":3,"v":41250},{"year":"2019","m":4,"v":42550},{"year":"2019","m":5,"v":43740},{"year":"2019","m":6,"v":42660},{"year":"2019","m":7,"v":45790},{"year":"2019","m":8,"v":44920},{"year":"2019","m":9,"v":43740},{"year":"2019","m":10,"v":44920},{"year":"2019","m":11,"v":43740},{"year":"2019","m":12,"v":44710},
 {"year":"2020","m":1,"v":42770},{"year":"2020","m":2,"v":36390},{"year":"2020","m":3,"v":34770},{"year":"2020","m":4,"v":37370},{"year":"2020","m":5,"v":40060},{"year":"2020","m":6,"v":42770},{"year":"2020","m":7,"v":43740},{"year":"2020","m":8,"v":42440},{"year":"2020","m":9,"v":42660},{"year":"2020","m":10,"v":43850},{"year":"2020","m":11,"v":43520},{"year":"2020","m":12,"v":43200},
 {"year":"2021","m":1,"v":41360},{"year":"2021","m":2,"v":39090},{"year":"2021","m":3,"v":43740},{"year":"2021","m":4,"v":42770},{"year":"2021","m":5,"v":42220},{"year":"2021","m":6,"v":44060}]},
 "encoding":{
  "x":{"field":"m","type":"quantitative","scale":{"domain":[0.5,12.5],"range":[28.8,328.2],"nice":false,"zero":false},
   "axis":{"values":[1,2,3,4,5,6,7,8,9,10,11,12],"labelExpr":"['Jan','Feb','Mar','Apr','May','Jun','Jul','Aug','Sep','Oct','Nov','Dec'][datum.value-1]","grid":false,"ticks":false,"domain":true,"domainColor":"#d9d9d9","domainWidth":0.8,"offset":-28.5,"labelPadding":4.5,"labelFontSize":6,"labelColor":"#7f7f7f","labelFlush":false,"labelOverlap":false,"title":"2L","titleX":18,"titleY":-168.8,"titleFontSize":10.5,"titleFontWeight":"normal","titleColor":"#1a1a1a","titleAlign":"center","titleBaseline":"middle","titleAngle":0}},
  "y":{"field":"v","type":"quantitative","scale":{"domain":[0,50000],"range":[180.5,26],"nice":false,"zero":false},
   "axis":{"values":[0,5000,10000,15000,20000,25000,30000,35000,40000,45000,50000],"format":",d","grid":true,"gridColor":"#e3e3e3","gridWidth":0.7,"domain":false,"ticks":false,"offset":-28.8,"labelPadding":6,"labelFontSize":6,"labelColor":"#7f7f7f","labelFlush":false,"labelOverlap":false,"title":null}}},
 "layer":[
  {"mark":"line","encoding":{"color":{"field":"year","type":"nominal","scale":{"domain":["2018","2019","2020","2021"],"range":["#44546a","#ed7d31","#a9d18e","#ffc000"]},
   "legend":{"orient":"none","legendX":113,"legendY":193,"direction":"horizontal","columns":4,"title":null,"padding":0,"symbolSize":144,"symbolStrokeWidth":1.4,"symbolType":"M-1,0H1M-0.3,0A0.3,0.3,0,1,1,0.3,0A0.3,0.3,0,1,1,-0.3,0Z","labelFontSize":6,"labelColor":"#595959","labelOffset":1,"columnPadding":-6}}}},
  {"transform":[{"filter":"datum.year=='2018'"}],"mark":{"type":"point","shape":"triangle-up","color":"#9fb3d1","size":26}},
  {"transform":[{"filter":"datum.year=='2019'"}],"mark":{"type":"point","shape":"circle","color":"#c55a11"}},
  {"transform":[{"filter":"datum.year=='2020'"}],"mark":{"type":"point","shape":"circle","color":"#548235"}},
  {"transform":[{"filter":"datum.year=='2021'"}],"mark":{"type":"point","shape":"diamond","color":"#bf9000"}}
 ]}
]
}
